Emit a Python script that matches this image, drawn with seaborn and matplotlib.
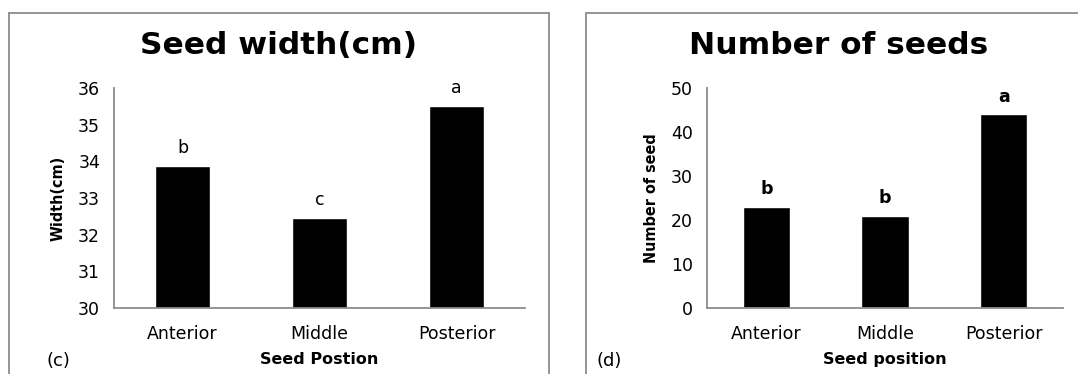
import pandas as pd
import matplotlib.pyplot as plt
import seaborn as sns
from matplotlib.lines import Line2D

positions = ["Anterior", "Middle", "Posterior"]
seed_width = [33.88, 32.45, 35.52]
width_letters = ["b", "c", "a"]
seed_number = [23, 21, 44]
number_letters = ["b", "b", "a"]

sns.set_style("white")
plt.rcParams['font.family'] = ['DejaVu Sans']
plt.rcParams.update({"text.color": "black", "axes.labelcolor": "black",
                     "xtick.color": "black", "ytick.color": "black"})

W, H = 1078, 374
fig = plt.figure(figsize=(W / 100, H / 100), dpi=100)


def px(x, y):
    return x / W, 1 - y / H


def frame(x0, x1, y0, y1):
    for (xa, ya), (xb, yb) in [((x0, y1), (x0, y0)), ((x0, y0), (x1, y0)), ((x1, y0), (x1, y1))]:
        a, b = px(xa, ya), px(xb, yb)
        fig.add_artist(Line2D([a[0], b[0]], [a[1], b[1]], color="#8c8c8c", lw=1.3))


frame(9, 549, 13, 380)
frame(586, 1085, 13, 380)


def panel(rect, values, letters, ylim, yticks, title, title_x, ylabel, xlabel, tag, tag_x, bold_letters):
    ax = fig.add_axes(rect)
    df = pd.DataFrame({"pos": positions, "val": values})
    sns.barplot(data=df, x="pos", y="val", color="black", saturation=1, width=0.4, ax=ax)
    ax.set_ylim(*ylim)
    ax.set_xlim(-0.5, 2.5)
    ax.set_yticks(yticks)
    ax.tick_params(axis="y", direction="out", length=5, color="#8c8c8c", labelsize=12.5, pad=5)
    ax.tick_params(axis="x", length=0, labelsize=12.5, pad=12)
    for s in ["top", "right"]:
        ax.spines[s].set_visible(False)
    for s in ["left", "bottom"]:
        ax.spines[s].set_color("#8c8c8c")
        ax.spines[s].set_linewidth(1.3)
    span = ylim[1] - ylim[0]
    for i, (v, l) in enumerate(zip(values, letters)):
        ax.text(i, v + span * 0.04, l, ha="center", va="bottom", fontsize=12.5,
                fontweight="bold" if bold_letters else "normal")
    ax.set_ylabel(ylabel, fontsize=11.5, fontweight="bold", fontstretch="condensed", labelpad=9)
    ax.set_xlabel(xlabel, fontsize=11.5, fontweight="bold", labelpad=7)
    fig.text(px(title_x, 0)[0], px(0, 46)[1], title, ha="center", va="center", fontsize=22.5,
             fontweight="bold")
    fig.text(px(tag_x, 0)[0], px(0, 361)[1], tag, ha="left", va="center", fontsize=13)
    return ax


panel([114 / W, 1 - 308 / H, 411 / W, 220 / H], seed_width, width_letters, (30, 36),
      range(30, 37), "Seed width(cm)", 278, "Width(cm)", "Seed Postion", "(c)", 46, False)
panel([707 / W, 1 - 308 / H, 356 / W, 220 / H], seed_number, number_letters, (0, 50),
      range(0, 51, 10), "Number of seeds", 839, "Number of seed", "Seed position", "(d)", 596, True)

fig.savefig("out.png", dpi=100)
